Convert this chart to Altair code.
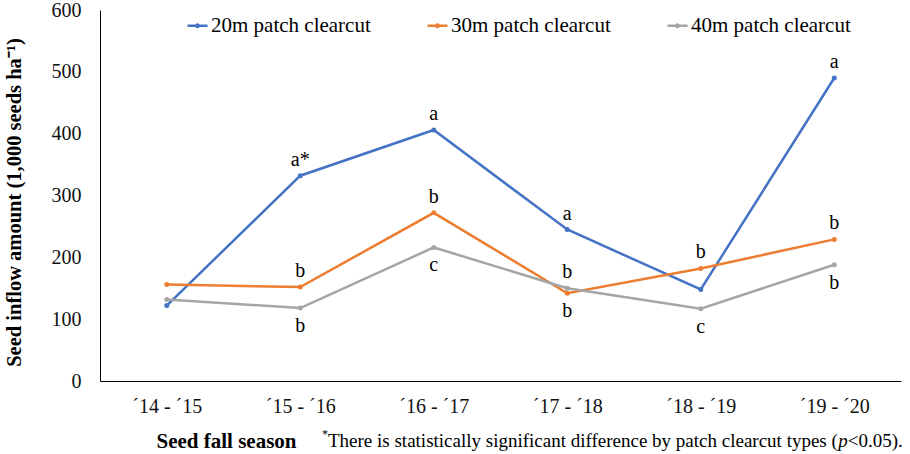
import altair as alt
import pandas as pd

categories = ["´14 - ´15", "´15 - ´16", "´16 - ´17", "´17 - ´18", "´18 - ´19", "´19 - ´20"]
series = ["20m patch clearcut", "30m patch clearcut", "40m patch clearcut"]
colors = ["#4472C4", "#ED7D31", "#A5A5A5"]

values_20 = [122, 332, 406, 245, 148, 490]
values_30 = [156, 152, 272, 142, 182, 229]
values_40 = [132, 118, 216, 150, 117, 188]

letters_20 = ["", "a*", "a", "a", "", "a"]
letters_30 = ["", "b", "b", "b", "b", "b"]
letters_40 = ["", "b", "c", "b", "c", "b"]

place_20 = ["", "above", "above", "above", "", "above"]
place_30 = ["", "above", "above", "below", "above", "above"]
place_40 = ["", "below", "below", "above", "below", "below"]

footnote_star = "*"
footnote_main = "There is statistically significant difference by patch clearcut types ("
footnote_p = "p"
footnote_end = "<0.05)."

rows = []
for name, vals, lets, places in zip(series,
                                    [values_20, values_30, values_40],
                                    [letters_20, letters_30, letters_40],
                                    [place_20, place_30, place_40]):
    for c, v, l, p in zip(categories, vals, lets, places):
        rows.append({"season": c, "series": name, "value": v, "letter": l, "place": p})
df = pd.DataFrame(rows)

FONT = "Liberation Serif"

x_enc = alt.X(
    "season:N", sort=categories,
    scale=alt.Scale(type="point", padding=0.5),
    axis=alt.Axis(
        title="Seed fall season", labelAngle=0, ticks=False,
        domainColor="#000000", domainWidth=1,
        labelFont=FONT, labelFontSize=20, labelColor="#111111", labelPadding=15,
        titleFont=FONT, titleFontSize=21, titleFontWeight="bold", titleColor="#000000",
        titleX=126, titleY=60, titleAlign="center", titleBaseline="middle",
    ),
)
y_enc = alt.Y(
    "value:Q",
    scale=alt.Scale(domain=[0, 600], nice=False),
    axis=alt.Axis(
        values=[0, 100, 200, 300, 400, 500, 600], grid=False, ticks=False,
        domainColor="#000000", domainWidth=1,
        labelFont=FONT, labelFontSize=20, labelColor="#111111", labelPadding=19,
        title="Seed inflow amount (1,000 seeds ha⁻¹)",
        titleFont=FONT, titleFontSize=20.5, titleFontWeight="bold", titleColor="#000000",
        titleX=-86, titleY=192, titleAngle=270, titleAlign="center", titleBaseline="middle",
    ),
)

legend_path = "M-1,0L1,0M-0.12,0A0.12,0.12,0,1,0,0.12,0A0.12,0.12,0,1,0,-0.12,0"

color_enc = alt.Color(
    "series:N",
    scale=alt.Scale(domain=series, range=colors),
    legend=alt.Legend(
        title=None, orient="none", direction="horizontal", legendX=86, legendY=4,
        symbolType=legend_path, symbolSize=400, symbolStrokeWidth=2.5,
        labelFont=FONT, labelFontSize=21, labelColor="#000000",
        columnPadding=51, labelOffset=2, padding=0,
    ),
)

base = alt.Chart(df)

lines = base.mark_line(strokeWidth=2.5).encode(x=x_enc, y=y_enc, color=color_enc)
points = base.mark_circle(size=25, opacity=1).encode(
    x=x_enc, y=y_enc,
    color=alt.Color("series:N", scale=alt.Scale(domain=series, range=colors), legend=None),
)

above = base.transform_filter(alt.datum.place == "above").mark_text(
    dy=-16, font=FONT, fontSize=20, color="#000000", baseline="middle"
).encode(x=x_enc, y=y_enc, text="letter:N")
below = base.transform_filter(alt.datum.place == "below").mark_text(
    dy=18, font=FONT, fontSize=20, color="#000000", baseline="middle"
).encode(x=x_enc, y=y_enc, text="letter:N")

one = pd.DataFrame({"k": [0]})
note_star = alt.Chart(one).mark_text(
    text=footnote_star, font=FONT, fontSize=12, align="left", baseline="middle", color="#000000"
).encode(x=alt.value(222), y=alt.value(424))
note_main = alt.Chart(one).mark_text(
    text=footnote_main, font=FONT, fontSize=19, align="left", baseline="middle", color="#000000"
).encode(x=alt.value(228), y=alt.value(431))
note_p = alt.Chart(one).mark_text(
    text=footnote_p, font=FONT, fontSize=19, fontStyle="italic", align="left", baseline="middle", color="#000000"
).encode(x=alt.value(738.2), y=alt.value(431))
note_end = alt.Chart(one).mark_text(
    text=footnote_end, font=FONT, fontSize=19, align="left", baseline="middle", color="#000000"
).encode(x=alt.value(747.7), y=alt.value(431))

chart = alt.layer(lines, points, above, below, note_star, note_main, note_p, note_end).properties(
    width=801, height=371,
    autosize=alt.AutoSizeParams(type="none"),
    padding={"left": 100, "top": 10, "right": 9, "bottom": 73},
    background="white",
).configure(
    font=FONT
).configure_view(stroke=None)

chart.save("out.html", embed_options={"renderer": "svg", "actions": False})
